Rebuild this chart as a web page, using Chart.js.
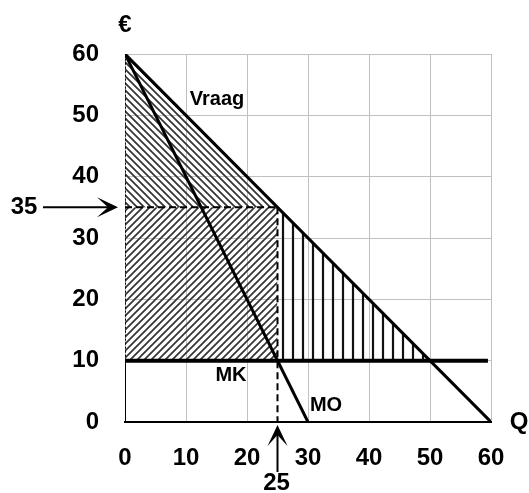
<!DOCTYPE html>
<html>
<head>
<meta charset="utf-8">
<script src="https://cdn.jsdelivr.net/npm/chart.js@4.4.1/dist/chart.umd.min.js"></script>
<style>
  html, body { margin: 0; padding: 0; background: #fff; }
  #wrap { width: 529px; height: 493px; }
</style>
</head>
<body>
<div id="wrap"><canvas id="monoChart"></canvas></div>
<script>
// Monopoly chart data
const axisTicks = [0, 10, 20, 30, 40, 50, 60];
const demandQ = [0, 60];      // Vraag
const demandP = [60, 0];
const moQ = [0, 30];          // MO
const moP = [60, 0];
const mkQ = [0, 59.5];        // MK
const mkP = [10, 10];
const qOpt = 25;              // afzet bij MO = MK
const pOpt = 35;              // prijs
const mkLevel = 10;
const qCompetition = 50;      // Vraag = MK

const pts = (xs, ys) => xs.map((x, i) => ({ x: x, y: ys[i] }));

// hatch patterns
function hatch(kind) {
  const c = document.createElement("canvas");
  const s = kind === "v" ? 10 : 7;
  c.width = s; c.height = s;
  const g = c.getContext("2d");
  g.strokeStyle = kind === "v" ? "#111" : "#333";
  g.lineWidth = kind === "v" ? 2.2 : 1.7;
  g.beginPath();
  if (kind === "v") {
    g.moveTo(3, 0); g.lineTo(3, s);
  } else if (kind === "/") {
    g.moveTo(0, s); g.lineTo(s, 0);
    g.moveTo(-1, 1); g.lineTo(1, -1);
    g.moveTo(s - 1, s + 1); g.lineTo(s + 1, s - 1);
  } else {
    g.moveTo(0, 0); g.lineTo(s, s);
    g.moveTo(-1, s - 1); g.lineTo(1, s + 1);
    g.moveTo(s - 1, -1); g.lineTo(s + 1, 1);
  }
  g.stroke();
  return g.createPattern(c, "repeat");
}

function arrow(ctx, x1, y1, x2, y2) {
  const ang = Math.atan2(y2 - y1, x2 - x1);
  const len = 21, half = 10, notch = 10;
  ctx.save();
  ctx.strokeStyle = "#000";
  ctx.fillStyle = "#000";
  ctx.lineWidth = 2;
  ctx.beginPath();
  ctx.moveTo(x1, y1);
  ctx.lineTo(x2 - Math.cos(ang) * notch, y2 - Math.sin(ang) * notch);
  ctx.stroke();
  ctx.translate(x2, y2);
  ctx.rotate(ang);
  ctx.beginPath();
  ctx.moveTo(0, 0);
  ctx.lineTo(-len, -half);
  ctx.lineTo(-notch, 0);
  ctx.lineTo(-len, half);
  ctx.closePath();
  ctx.fill();
  ctx.restore();
}

const labelsPlugin = {
  id: "labels",
  afterDraw(chart) {
    const ctx = chart.ctx;
    const xs = chart.scales.x, ys = chart.scales.y;
    ctx.save();
    ctx.fillStyle = "#000";
    ctx.textAlign = "center";
    ctx.textBaseline = "middle";
    ctx.font = "bold 20px Arial, 'Liberation Sans', sans-serif";
    ctx.fillText("Vraag", 217, 99);
    ctx.fillText("MK", 231, 375);
    ctx.fillText("MO", 326, 405);
    ctx.font = "bold 24px Arial, 'Liberation Sans', sans-serif";
    ctx.fillText("€", xs.getPixelForValue(0), 25);
    ctx.fillText("Q", 519, ys.getPixelForValue(0));
    // 35 arrow
    const py = ys.getPixelForValue(pOpt);
    ctx.fillText(String(pOpt), 24, py);
    arrow(ctx, 43, py, xs.getPixelForValue(0) - 7, py);
    // 25 arrow
    const qx = xs.getPixelForValue(qOpt);
    ctx.fillText(String(qOpt), qx - 1, 483);
    arrow(ctx, qx, 472, qx, ys.getPixelForValue(0) + 3);
    ctx.restore();
  }
};

const black = "#000";
const grey = "#c0c0c0";

new Chart(document.getElementById("monoChart"), {
  type: "scatter",
  data: {
    datasets: [
      { data: pts(demandQ, demandP), showLine: true, borderColor: black, borderWidth: 3, pointRadius: 0, order: 1 },
      { data: pts(moQ, moP), showLine: true, borderColor: black, borderWidth: 3, pointRadius: 0, order: 1 },
      { data: pts(mkQ, mkP), showLine: true, borderColor: black, borderWidth: 4, pointRadius: 0, order: 1 },
      // dashed guides
      { data: pts([0, qOpt], [pOpt, pOpt]), showLine: true, borderColor: black, borderWidth: 2, borderDash: [7, 4], pointRadius: 0, order: 2 },
      { data: pts([qOpt, qOpt], [pOpt, 0]), showLine: true, borderColor: black, borderWidth: 2, borderDash: [7, 4], pointRadius: 0, order: 2 },
      // left edge
      { data: pts([0, 0], [0, mkLevel]), showLine: true, borderColor: black, borderWidth: 2, pointRadius: 0, order: 2 },
      { data: pts([0, 0], [mkLevel, 60]), showLine: true, borderColor: black, borderWidth: 2, borderDash: [2, 2], pointRadius: 0, order: 2 },
      // hatched areas
      { data: pts([0, qOpt], [60, pOpt]), showLine: true, borderWidth: 0, pointRadius: 0, backgroundColor: hatch("\\"), fill: { value: pOpt }, order: 3 },
      { data: pts([0, qOpt], [pOpt, pOpt]), showLine: true, borderWidth: 0, pointRadius: 0, backgroundColor: hatch("/"), fill: { value: mkLevel }, order: 3 },
      { data: pts([qOpt, qCompetition], [pOpt, mkLevel]), showLine: true, borderWidth: 0, pointRadius: 0, backgroundColor: hatch("v"), fill: { value: mkLevel }, order: 3 }
    ]
  },
  options: {
    responsive: true,
    maintainAspectRatio: false,
    animation: false,
    layout: { padding: { top: 54, right: 38, left: 0, bottom: 0 } },
    plugins: { legend: { display: false }, tooltip: { enabled: false } },
    scales: {
      x: {
        type: "linear", min: 0, max: 60,
        afterFit: s => { s.height = 71; },
        afterBuildTicks: s => { s.ticks = axisTicks.map(v => ({ value: v })); },
        border: { display: true, color: black, width: 2 },
        grid: { color: grey, lineWidth: 1, drawTicks: false },
        ticks: { padding: 22, color: black, font: { family: "Arial, 'Liberation Sans', sans-serif", size: 24, weight: "bold" } }
      },
      y: {
        type: "linear", min: 0, max: 60,
        afterFit: s => { s.width = 125; },
        afterBuildTicks: s => { s.ticks = axisTicks.map(v => ({ value: v })); },
        border: { display: false },
        grid: { color: grey, lineWidth: 1, drawTicks: false },
        ticks: { padding: 26, color: black, font: { family: "Arial, 'Liberation Sans', sans-serif", size: 24, weight: "bold" } }
      }
    }
  },
  plugins: [labelsPlugin]
});
</script>
</body>
</html>
